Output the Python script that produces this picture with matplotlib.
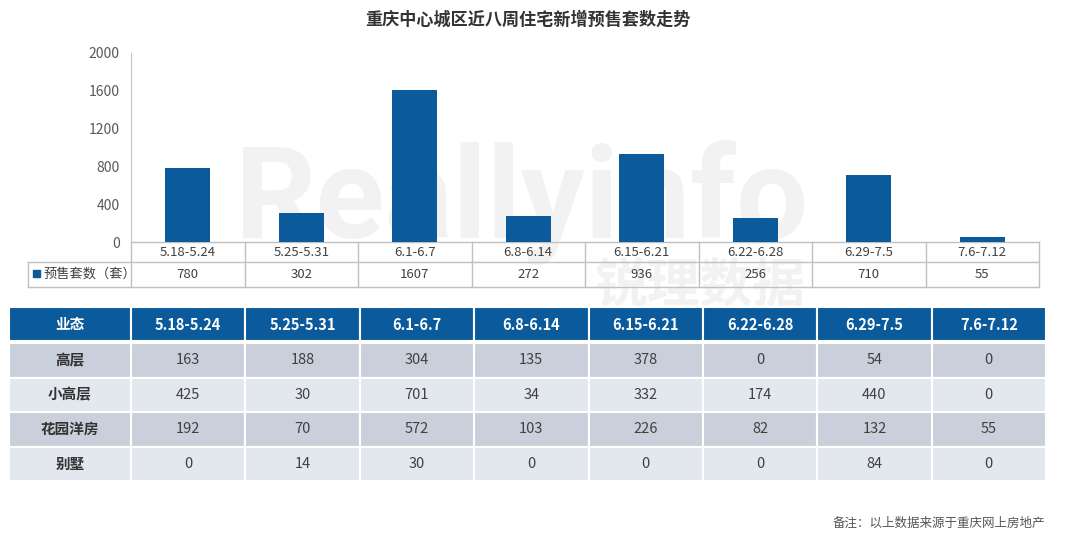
import matplotlib
matplotlib.use('Agg')
import matplotlib.pyplot as plt
from matplotlib.patches import Rectangle

plt.rcParams['font.family'] = ['Noto Sans CJK SC', 'DejaVu Sans']

# 数据
weeks = ['5.18-5.24', '5.25-5.31', '6.1-6.7', '6.8-6.14', '6.15-6.21',
         '6.22-6.28', '6.29-7.5', '7.6-7.12']
presale = [780, 302, 1607, 272, 936, 256, 710, 55]
types = ['高层', '小高层', '花园洋房', '别墅']
gaoceng = [163, 188, 304, 135, 378, 0, 54, 0]
xiaogaoceng = [425, 30, 701, 34, 332, 174, 440, 0]
huayuan = [192, 70, 572, 103, 226, 82, 132, 55]
bieshu = [0, 14, 30, 0, 0, 0, 84, 0]
rows = [gaoceng, xiaogaoceng, huayuan, bieshu]

BLUE = '#0b5a9b'
W, H = 1080, 536

fig = plt.figure(figsize=(W / 100, H / 100), dpi=100)
bg = fig.add_axes([0, 0, 1, 1])
bg.set_xlim(0, W)
bg.set_ylim(H, 0)
bg.axis('off')

# 水印
bg.text(522, 238, 'Reallyinfo', fontsize=92, fontweight='bold', color='#f2f2f2',
        ha='center', va='baseline', family='Roboto', zorder=0)
bg.text(700, 302, '锐理数据', fontsize=38, fontweight='bold', color='#f2f2f2',
        ha='center', va='baseline', zorder=0)

# 标题
bg.text(528, 20, '重庆中心城区近八周住宅新增预售套数走势', fontsize=12.3,
        fontweight='bold', color='#333333', ha='center', va='center')

# 柱状图
x0, x1 = 131, 1039
y_top, y_bot = 53, 242
ax = fig.add_axes([x0 / W, 1 - y_bot / H, (x1 - x0) / W, (y_bot - y_top) / H])
ax.patch.set_alpha(0)
ax.bar(range(len(weeks)), presale, width=0.4, color=BLUE, zorder=3)
ax.set_xlim(-0.5, len(weeks) - 0.5)
ax.set_ylim(0, 2000)
ax.set_yticks(range(0, 2001, 400))
ax.set_xticks([])
ax.tick_params(axis='y', length=0, pad=8, labelsize=10, labelcolor='#595959')
for s in ['top', 'right', 'bottom']:
    ax.spines[s].set_visible(False)
ax.spines['left'].set_color('#c8c8c8')

# 柱状图下方数据表
cw = (x1 - x0) / len(weeks)
line = dict(color='#c0c0c0', lw=1)
r1, r2, r3 = 242, 262, 287
bg.plot([x0, x1], [r1, r1], **line)
bg.plot([28, x1], [r2, r2], **line)
bg.plot([28, x1], [r3, r3], **line)
bg.plot([28, 28], [r2, r3], **line)
for i in range(len(weeks) + 1):
    bg.plot([x0 + i * cw] * 2, [r1, r3], **line)
for i, (wk, v) in enumerate(zip(weeks, presale)):
    cx = x0 + (i + 0.5) * cw
    bg.text(cx, (r1 + r2) / 2, wk, fontsize=9.5, color='#404040', ha='center', va='center')
    bg.text(cx, (r2 + r3) / 2, str(v), fontsize=9.5, color='#404040', ha='center', va='center')
bg.add_patch(Rectangle((33, 270), 7, 7, color=BLUE))
bg.text(43, (r2 + r3) / 2, '预售套数（套）', fontsize=9.5, color='#404040', ha='left', va='center')

# 业态表
tx0, tc0, tx1 = 9, 131, 1046
tw = (tx1 - tc0) / len(weeks)
ty = 307
hh = 34
rh = 34.5


def cell(x, y, w, h, fc):
    bg.add_patch(Rectangle((x, y), w, h, facecolor=fc, edgecolor='white', lw=1.5))


cell(tx0, ty, tc0 - tx0, hh, BLUE)
bg.text((tx0 + tc0) / 2, ty + hh / 2, '业态', fontsize=10.5, fontweight='bold',
        color='white', ha='center', va='center')
for i, wk in enumerate(weeks):
    cell(tc0 + i * tw, ty, tw, hh, BLUE)
    bg.text(tc0 + (i + 0.5) * tw, ty + hh / 2 + 1, wk, fontsize=10.5, fontweight='bold',
            color='white', ha='center', va='center')

for r, (name, vals) in enumerate(zip(types, rows)):
    y = ty + hh + 2 + r * rh
    fc = '#cad0db' if r % 2 == 0 else '#e3e7ee'
    cell(tx0, y, tc0 - tx0, rh, fc)
    bg.text((tx0 + tc0) / 2, y + rh / 2, name, fontsize=10.5, fontweight='bold',
            color='#333333', ha='center', va='center')
    for i, v in enumerate(vals):
        cell(tc0 + i * tw, y, tw, rh, fc)
        bg.text(tc0 + (i + 0.5) * tw, y + rh / 2, str(v), fontsize=10.5,
                color='#404040', ha='center', va='center')

# 备注
bg.text(1045, 523, '备注：以上数据来源于重庆网上房地产', fontsize=9, color='#555555',
        ha='right', va='center')

fig.savefig('out.png', dpi=100)
